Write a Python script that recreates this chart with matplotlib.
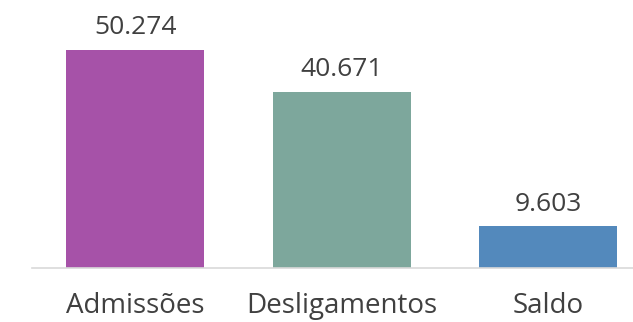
import matplotlib.pyplot as plt

# dados do gráfico
categorias = ['Admissões', 'Desligamentos', 'Saldo']
valores = [50274, 40671, 9603]
rotulos = ['50.274', '40.671', '9.603']
cores = ['#A652A8', '#7DA79C', '#5389BC']

plt.rcParams['font.family'] = ['Open Sans', 'DejaVu Sans']

fig = plt.figure(figsize=(6.33, 3.22), dpi=100)
ax = fig.add_axes([0.0506, 0.1677, 0.9494, 0.8323])

x = range(len(categorias))
barras = ax.bar(x, valores, width=0.668, color=cores)

for b, txt in zip(barras, rotulos):
    ax.annotate(txt, (b.get_x() + b.get_width() / 2, b.get_height()),
                xytext=(0, 7), textcoords='offset points',
                ha='center', va='bottom', fontsize=19, color='#404040')

ax.set_xlim(-0.499, 2.41)
ax.set_ylim(0, 61806)
ax.set_xticks(list(x))
ax.set_xticklabels(categorias, fontsize=20, color='#404040')
ax.tick_params(axis='x', length=0, pad=17.5)
ax.set_yticks([])
for s in ['top', 'right', 'left']:
    ax.spines[s].set_visible(False)
ax.spines['bottom'].set_color('#D9D9D9')
ax.spines['bottom'].set_linewidth(1.2)

plt.savefig('out.png', dpi=100)
